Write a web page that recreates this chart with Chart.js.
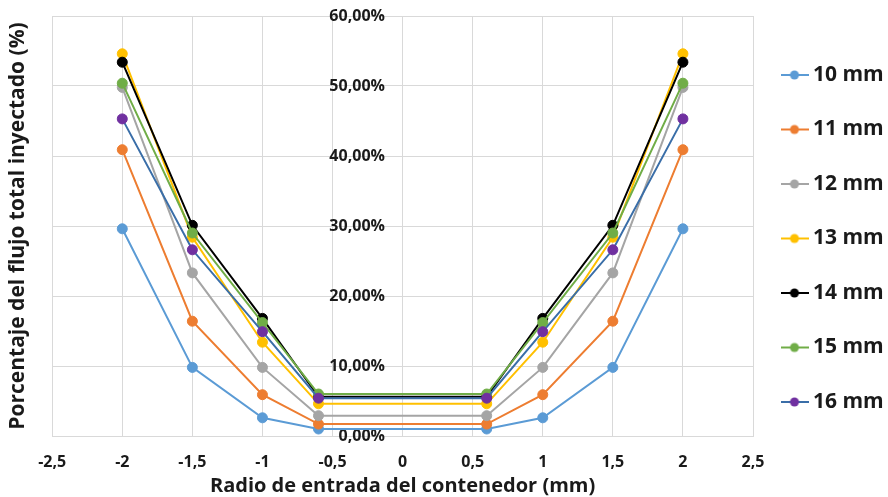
<!DOCTYPE html>
<html>
<head>
<meta charset="utf-8">
<script src="https://cdn.jsdelivr.net/npm/chart.js@4.4.1/dist/chart.umd.min.js"></script>
<style>
  html, body { margin: 0; padding: 0; background: #ffffff; }
  #wrap { width: 888px; height: 497px; position: relative; }
</style>
</head>
<body>
<div id="wrap"><canvas id="c" width="888" height="497"></canvas></div>
<script>
// ---- data ----
const xValues = [-2, -1.5, -1, -0.6, 0.6, 1, 1.5, 2];
const seriesNames = ['10 mm', '11 mm', '12 mm', '13 mm', '14 mm', '15 mm', '16 mm'];
const s10 = [29.6, 9.8, 2.6, 1.0, 1.0, 2.6, 9.8, 29.6];
const s11 = [40.9, 16.4, 5.9, 1.7, 1.7, 5.9, 16.4, 40.9];
const s12 = [49.8, 23.3, 9.8, 2.9, 2.9, 9.8, 23.3, 49.8];
const s13 = [54.6, 28.4, 13.4, 4.6, 4.6, 13.4, 28.4, 54.6];
const s14 = [53.4, 30.1, 16.8, 5.6, 5.6, 16.8, 30.1, 53.4];
const s15 = [50.4, 29.0, 16.2, 6.0, 6.0, 16.2, 29.0, 50.4];
const s16 = [45.3, 26.6, 14.9, 5.4, 5.4, 14.9, 26.6, 45.3];
const yTicks = [0, 10, 20, 30, 40, 50, 60];
const xTicks = [-2.5, -2, -1.5, -1, -0.5, 0, 0.5, 1, 1.5, 2, 2.5];

const seriesValues = [s10, s11, s12, s13, s14, s15, s16];
const lineColors = ['#5B9BD5', '#ED7D31', '#A5A5A5', '#FFC000', '#000000', '#70AD47', '#3A6EA8'];
const pointColors = ['#5B9BD5', '#ED7D31', '#A5A5A5', '#FFC000', '#000000', '#70AD47', '#7030A0'];

const FONT = "'Open Sans', 'Liberation Sans', sans-serif";
const TXT = '#1a1a1a';
const GRID = '#d9d9d9';

function legendIcon(lineColor, pointColor) {
  const cv = document.createElement('canvas');
  cv.width = 28; cv.height = 12;
  const g = cv.getContext('2d');
  g.strokeStyle = lineColor; g.lineWidth = 2;
  g.beginPath(); g.moveTo(0, 6); g.lineTo(28, 6); g.stroke();
  g.fillStyle = pointColor;
  g.beginPath(); g.arc(14, 6, 4.5, 0, Math.PI * 2); g.fill();
  return cv;
}
const icons = seriesNames.map((n, i) => legendIcon(lineColors[i], pointColors[i]));

const datasets = seriesNames.map((name, i) => ({
  label: name,
  data: xValues.map((x, j) => ({ x: x, y: seriesValues[i][j] })),
  borderColor: lineColors[i],
  backgroundColor: pointColors[i],
  pointBackgroundColor: pointColors[i],
  pointBorderColor: pointColors[i],
  borderWidth: 2,
  pointRadius: 5,
  pointBorderWidth: 1,
  tension: 0,
  order: seriesNames.length - i
}));

const fmt = (v, dec) => (dec ? v.toFixed(dec) : String(v)).replace('.', ',');

new Chart(document.getElementById('c'), {
  type: 'line',
  data: { datasets: datasets },
  options: {
    responsive: false,
    animation: false,
    devicePixelRatio: 1,
    layout: { padding: { left: 0, right: 0, top: 16, bottom: 0 } },
    plugins: {
      tooltip: { enabled: false },
      legend: {
        position: 'right',
        align: 'start',
        maxWidth: 135,
        title: { display: true, text: ' ', font: { size: 10 }, padding: 1.5 },
        labels: {
          usePointStyle: true,
          pointStyleWidth: 16,
          padding: 33.5,
          color: TXT,
          font: { family: FONT, size: 21, weight: 'bold' },
          generateLabels: (chart) => chart.data.datasets.map((ds, i) => ({
            text: ds.label,
            fillStyle: pointColors[i],
            strokeStyle: lineColors[i],
            lineWidth: 0,
            pointStyle: icons[i],
            hidden: false,
            datasetIndex: i,
            fontColor: TXT
          }))
        }
      }
    },
    scales: {
      x: {
        type: 'linear',
        position: 'bottom',
        min: -2.5, max: 2.5,
        afterBuildTicks: (s) => { s.ticks = xTicks.map(v => ({ value: v })); },
        afterFit: (s) => { s.height = 61; },
        ticks: {
          callback: (v) => fmt(v),
          color: TXT,
          padding: 17,
          maxRotation: 0,
          font: { family: FONT, size: 16, weight: 'bold' }
        },
        grid: { color: GRID, lineWidth: 1, drawTicks: false },
        border: { display: true, color: GRID },
        title: {
          display: true,
          text: 'Radio de entrada del contenedor (mm)',
          color: TXT,
          padding: { top: 1, bottom: -1 },
          font: { family: FONT, size: 20, weight: 'bold' }
        }
      },
      y: {
        type: 'linear',
        position: { x: -0.126 },
        min: 0, max: 60,
        afterBuildTicks: (s) => { s.ticks = yTicks.map(v => ({ value: v })); },
        afterFit: (s) => { s.paddingTop = 0; s.paddingBottom = 0; },
        ticks: {
          callback: (v) => fmt(v, 2) + '%',
          color: TXT,
          padding: 0,
          font: { family: FONT, size: 16, weight: 'bold' }
        },
        grid: { color: GRID, lineWidth: 1, drawTicks: false },
        border: { display: false }
      },
      yl: {
        type: 'linear',
        position: 'left',
        min: 0, max: 60,
        ticks: { display: false },
        grid: { display: false, drawTicks: false },
        border: { display: false },
        title: {
          display: true,
          text: 'Porcentaje del flujo total inyectado (%)',
          color: TXT,
          padding: { top: 5, bottom: 22 },
          font: { family: FONT, size: 21, weight: 'bold' }
        }
      }
    }
  }
});
</script>
</body>
</html>
